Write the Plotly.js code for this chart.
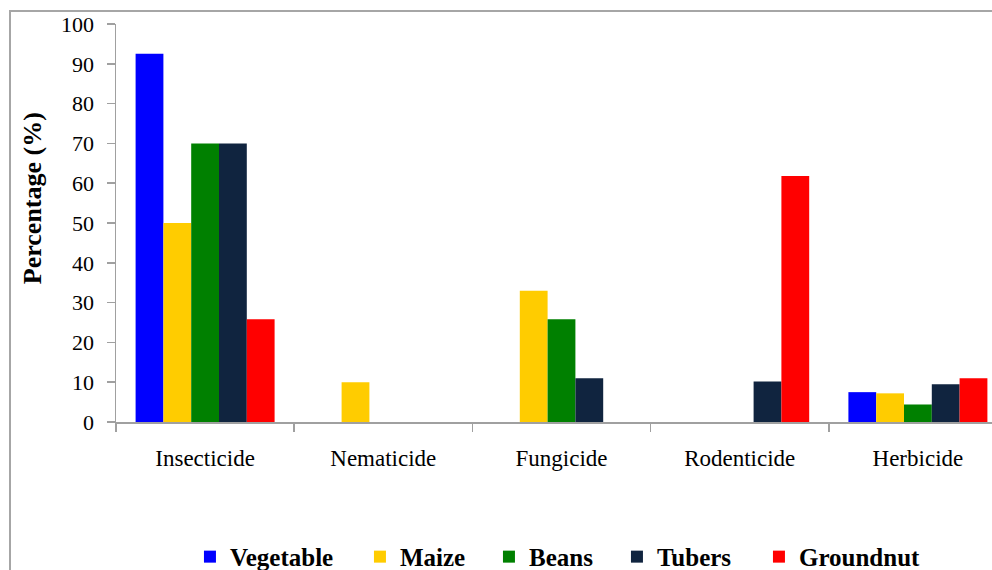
<!DOCTYPE html>
<html>
<head>
<meta charset="utf-8">
<script src="https://cdn.plot.ly/plotly-3.0.1.min.js"></script>
<style>
  html, body { margin: 0; padding: 0; background: #fff; overflow: hidden; width: 992px; height: 570px; }
  #frame { position: absolute; left: 9px; top: 10px; width: 1200px; height: 600px;
           border-left: 2px solid #a6a6a6; border-top: 2px solid #a6a6a6; }
  #chart { position: absolute; left: 0; top: 0; }
</style>
</head>
<body>
<div id="frame"></div>
<div id="chart"></div>
<script>
const categories = ["Insecticide", "Nematicide", "Fungicide", "Rodenticide", "Herbicide"];
const seriesNames = ["Vegetable", "Maize", "Beans", "Tubers", "Groundnut"];
const vegetable = [92.5, 0, 0, 0, 7.5];
const maize     = [50, 10, 33, 0, 7.2];
const beans     = [70, 0, 25.8, 0, 4.4];
const tubers    = [70, 0, 11, 10.2, 9.5];
const groundnut = [25.8, 0, 0, 61.8, 11];
const yTicks = [0, 10, 20, 30, 40, 50, 60, 70, 80, 90, 100];
const yTitle = "Percentage (%)";

const seriesValues = [vegetable, maize, beans, tubers, groundnut];
const colors = ["#0000FF", "#FFCC00", "#008000", "#10243F", "#FF0000"];
const legendWidths = [125, 84, 83, 97, 140];

const font = "Liberation Serif";

const traces = seriesNames.map((name, i) => ({
  type: "bar",
  name: name,
  x: categories,
  y: seriesValues[i],
  marker: { color: colors[i], line: { width: 0 } },
  legendwidth: legendWidths[i],
  hoverinfo: "x+y+name"
}));

const layout = {
  width: 1100,
  height: 570,
  margin: { l: 116, r: 92.5, t: 24, b: 148.3, pad: 0, autoexpand: false },
  paper_bgcolor: "rgba(0,0,0,0)",
  plot_bgcolor: "rgba(0,0,0,0)",
  barmode: "group",
  bargap: 0.22,
  bargroupgap: 0,
  font: { family: font, color: "#000", size: 22 },
  showlegend: true,
  legend: {
    orientation: "h",
    xref: "paper", x: 0.083, xanchor: "left",
    yref: "container", y: 0.023, yanchor: "middle",
    font: { family: font, size: 25, color: "#000", weight: "bold" },
    bgcolor: "rgba(0,0,0,0)",
    borderwidth: 0,
    traceorder: "normal"
  },
  xaxis: {
    type: "category",
    range: [-0.5, 4.5],
    showline: true, linecolor: "#a0a0a0", linewidth: 1.5,
    ticks: "outside", tickson: "boundaries", ticklen: 8, tickcolor: "#a0a0a0", tickwidth: 1.5,
    tickfont: { family: font, size: 23, color: "#000" },
    ticklabelstandoff: 15,
    showgrid: false, zeroline: false, fixedrange: true
  },
  yaxis: {
    range: [0, 100],
    tickmode: "array", tickvals: yTicks, ticktext: yTicks.map(String),
    showline: true, linecolor: "#a0a0a0", linewidth: 1.5,
    ticks: "outside", ticklen: 8, tickcolor: "#a0a0a0", tickwidth: 1.5,
    tickfont: { family: font, size: 22, color: "#000" },
    ticklabelstandoff: 8,
    showgrid: false, zeroline: false, fixedrange: true
  },
  annotations: [{
    text: yTitle,
    xref: "paper", yref: "paper",
    x: -0.0942, y: 0.5625,
    xanchor: "center", yanchor: "middle",
    textangle: -90, showarrow: false,
    font: { family: font, size: 26, color: "#000", weight: "bold" }
  }]
};

Plotly.newPlot("chart", traces, layout, { displayModeBar: false, staticPlot: true });
</script>
</body>
</html>
